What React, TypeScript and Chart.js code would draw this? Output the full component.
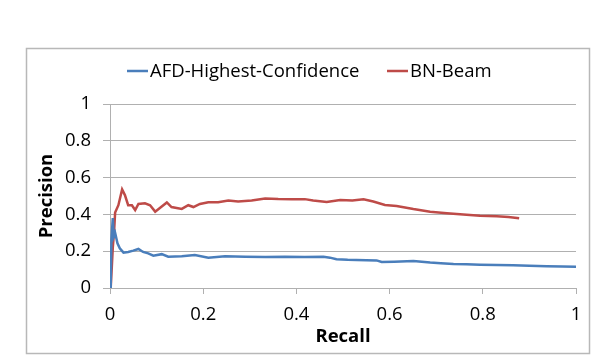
import React, { useEffect, useRef } from "react";
import { Chart, registerables } from "chart.js";

Chart.register(...registerables);

const seriesNames = ["AFD-Highest-Confidence", "BN-Beam"];
const seriesColors = ["#4a7ebb", "#be4b48"];

const afdRecall = [0.0015, 0.003, 0.006, 0.008, 0.011, 0.016, 0.021, 0.029, 0.039, 0.05, 0.061, 0.071, 0.082, 0.093, 0.111, 0.125, 0.154, 0.182, 0.211, 0.247, 0.29, 0.333, 0.375, 0.418, 0.458, 0.472, 0.486, 0.51, 0.529, 0.55, 0.572, 0.583, 0.61, 0.651, 0.687, 0.71, 0.737, 0.765, 0.794, 0.83, 0.865, 0.9, 0.937, 0.97, 1.0];
const afdPrecision = [0.0, 0.26, 0.38, 0.28, 0.3, 0.243, 0.216, 0.192, 0.196, 0.203, 0.212, 0.196, 0.188, 0.176, 0.184, 0.17, 0.172, 0.179, 0.165, 0.172, 0.17, 0.168, 0.17, 0.168, 0.17, 0.165, 0.156, 0.153, 0.152, 0.151, 0.15, 0.141, 0.143, 0.147, 0.138, 0.135, 0.13, 0.129, 0.127, 0.125, 0.123, 0.121, 0.118, 0.117, 0.116];

const bnRecall = [0.0015, 0.004, 0.006, 0.0086, 0.011, 0.018, 0.026, 0.032, 0.039, 0.047, 0.054, 0.061, 0.075, 0.086, 0.097, 0.107, 0.122, 0.132, 0.143, 0.154, 0.168, 0.179, 0.193, 0.211, 0.232, 0.254, 0.275, 0.304, 0.333, 0.361, 0.39, 0.418, 0.436, 0.465, 0.494, 0.52, 0.544, 0.565, 0.59, 0.615, 0.651, 0.687, 0.723, 0.758, 0.794, 0.83, 0.855, 0.878];
const bnPrecision = [0.0, 0.12, 0.22, 0.3, 0.41, 0.45, 0.536, 0.505, 0.45, 0.45, 0.424, 0.457, 0.46, 0.45, 0.415, 0.435, 0.465, 0.44, 0.435, 0.43, 0.45, 0.44, 0.457, 0.466, 0.466, 0.475, 0.47, 0.475, 0.487, 0.484, 0.483, 0.483, 0.475, 0.467, 0.478, 0.476, 0.482, 0.47, 0.451, 0.446, 0.429, 0.415, 0.406, 0.399, 0.393, 0.39, 0.386, 0.379];

const yTicks = [0, 0.2, 0.4, 0.6, 0.8, 1];
const xTicks = [0, 0.2, 0.4, 0.6, 0.8, 1];

const FONT = "Open Sans";
const FONT_SIZE = 18.5;

const frameAndLegend = {
  id: "frameAndLegend",
  beforeDraw(chart: any) {
    const ctx = chart.ctx;
    ctx.save();
    ctx.fillStyle = "#ffffff";
    ctx.fillRect(0, 0, chart.width, chart.height);
    ctx.strokeStyle = "#b8b8b8";
    ctx.lineWidth = 1.5;
    ctx.strokeRect(26.5, 48.5, 563, 305);
    ctx.restore();
  },
  afterDraw(chart: any) {
    const ctx = chart.ctx;
    ctx.save();
    ctx.font = `${FONT_SIZE}px "${FONT}"`;
    ctx.textBaseline = "middle";
    const starts = [127, 387];
    seriesNames.forEach((name, i) => {
      const x0 = starts[i];
      ctx.strokeStyle = seriesColors[i];
      ctx.lineWidth = 2.5;
      ctx.beginPath();
      ctx.moveTo(x0, 71);
      ctx.lineTo(x0 + 21, 71);
      ctx.stroke();
      ctx.fillStyle = "#000000";
      ctx.fillText(name, x0 + 23, 72);
    });
    ctx.restore();
  },
};

export default function App() {
  const ref = useRef<HTMLCanvasElement>(null);
  useEffect(() => {
    if (!ref.current) return;
    const mk = (rs: number[], ps: number[]) => rs.map((r, i) => ({ x: r, y: ps[i] }));
    const chart = new Chart(ref.current, {
      type: "line",
      data: {
        datasets: [
          {
            label: seriesNames[0],
            data: mk(afdRecall, afdPrecision),
            borderColor: seriesColors[0],
            backgroundColor: seriesColors[0],
            borderWidth: 2.5,
            pointRadius: 0,
            tension: 0,
          },
          {
            label: seriesNames[1],
            data: mk(bnRecall, bnPrecision),
            borderColor: seriesColors[1],
            backgroundColor: seriesColors[1],
            borderWidth: 2.5,
            pointRadius: 0,
            tension: 0,
          },
        ],
      },
      options: {
        animation: false,
        responsive: false,
        devicePixelRatio: 1,
        layout: { padding: { top: 104, right: 22, left: 0, bottom: 0 } },
        plugins: { legend: { display: false }, tooltip: { enabled: false } },
        scales: {
          x: {
            type: "linear",
            min: 0,
            max: 1,
            afterFit: (s: any) => { s.height = 72; },
            afterBuildTicks: (s: any) => { s.ticks = xTicks.map((v) => ({ value: v })); },
            grid: { drawOnChartArea: false, drawTicks: true, tickLength: 6, color: "#b0b0b0", tickColor: "#b0b0b0" },
            border: { color: "#b0b0b0", width: 1 },
            ticks: {
              padding: 10,
              color: "#000",
              font: { family: FONT, size: FONT_SIZE },
              maxRotation: 0,
              callback: (v: any) => String(v),
            },
            title: {
              display: true,
              text: "Recall",
              color: "#000",
              font: { family: FONT, size: FONT_SIZE, weight: "bold" },
              padding: { top: 0, bottom: 12 },
            },
          },
          y: {
            type: "linear",
            min: 0,
            max: 1,
            afterFit: (s: any) => { s.width = 110; },
            afterBuildTicks: (s: any) => { s.ticks = yTicks.map((v) => ({ value: v })); },
            grid: { drawTicks: true, tickLength: 7, color: "#b0b0b0", tickColor: "#b0b0b0" },
            border: { color: "#b0b0b0", width: 1 },
            ticks: {
              padding: 12,
              color: "#000",
              font: { family: FONT, size: FONT_SIZE },
              callback: (v: any) => String(v),
            },
            title: {
              display: true,
              text: "Precision",
              color: "#000",
              font: { family: FONT, size: FONT_SIZE, weight: "bold" },
              padding: { top: 36, bottom: 0 },
            },
          },
        },
      },
      plugins: [frameAndLegend],
    } as any);
    return () => chart.destroy();
  }, []);
  return (
    <div style={{ position: "fixed", left: 0, top: 0, width: 598, height: 360 }}>
      <canvas ref={ref} width={598} height={360} style={{ width: 598, height: 360 }} />
    </div>
  );
}
